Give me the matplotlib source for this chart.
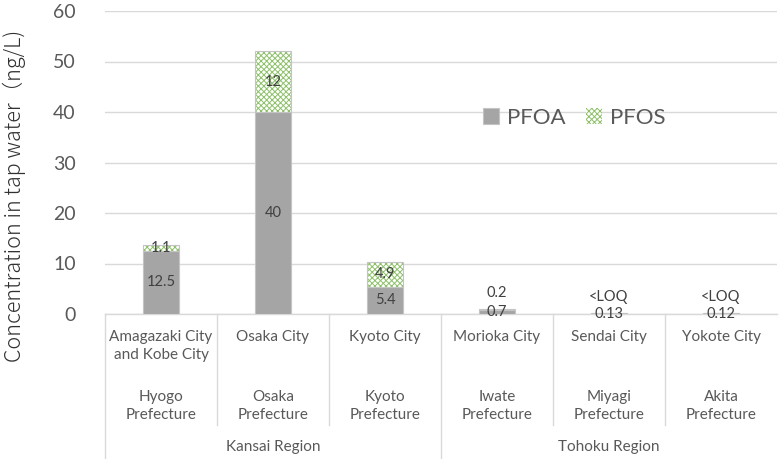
import numpy as np
import matplotlib
matplotlib.use('Agg')
from matplotlib import pyplot as plt

plt.rcParams['font.family'] = ['Lato', 'Noto Sans CJK JP', 'DejaVu Sans']
plt.rcParams['hatch.linewidth'] = 0.7

cities = ['Amagazaki City\nand Kobe City', 'Osaka City', 'Kyoto City',
          'Morioka City', 'Sendai City', 'Yokote City']
prefectures = ['Hyogo\nPrefecture', 'Osaka\nPrefecture', 'Kyoto\nPrefecture',
               'Iwate\nPrefecture', 'Miyagi\nPrefecture', 'Akita\nPrefecture']
regions = ['Kansai Region', 'Tohoku Region']
region_spans = [(0, 2), (3, 5)]

pfoa = [12.5, 40, 5.4, 0.7, 0.13, 0.12]
pfos = [1.1, 12, 4.9, 0.2, 0, 0]
pfoa_labels = ['12.5', '40', '5.4', '0.7', '0.13', '0.12']
pfos_labels = ['1.1', '12', '4.9', '0.2', '<LOQ', '<LOQ']

gray = '#A5A5A5'
green = '#8CC168'
edge = '#C4C4C4'
txt = '#595959'

fig = plt.figure(figsize=(7.79, 4.59), dpi=100)
ax = fig.add_axes([105/779, 1 - 314/459, 672/779, 303/459])

x = np.arange(len(cities))
w = 0.32
ax.bar(x, pfoa, w, color=gray, edgecolor=edge, linewidth=0.8, label='PFOA', zorder=3)
ax.bar(x, pfos, w, bottom=pfoa, color='white', edgecolor=green, hatch='xxxxxx',
       linewidth=0, label='PFOS', zorder=3)
ax.bar(x, pfos, w, bottom=pfoa, fill=False, edgecolor=edge, linewidth=0.8, zorder=4)

# value labels
for i in range(len(x)):
    ax.text(x[i], pfoa[i] / 2, pfoa_labels[i], ha='center', va='center',
            fontsize=10.5, color='#404040', zorder=5)
    if pfos[i] >= 1:
        yl = pfoa[i] + pfos[i] / 2
    elif pfos[i] > 0:
        yl = 4.2
    else:
        yl = 3.4
    ax.text(x[i], yl, pfos_labels[i], ha='center', va='center',
            fontsize=10.5, color='#404040', zorder=5)

ax.set_xlim(-0.5, 5.5)
ax.set_ylim(0, 60)
ax.set_yticks(np.arange(0, 61, 10))
ax.tick_params(axis='y', length=0, labelsize=14, labelcolor=txt, pad=21)
ax.set_xticks([])
ax.yaxis.grid(True, color='#D9D9D9', linewidth=1)
ax.set_axisbelow(True)
for s in ['top', 'right', 'left']:
    ax.spines[s].set_visible(False)
ax.spines['bottom'].set_color('#D9D9D9')
ax.spines['bottom'].set_linewidth(1)

ax.set_ylabel('Concentration in tap water（ng/L)', fontsize=15.5, color='#303030',
              family=['Noto Sans CJK JP', 'DejaVu Sans'], fontweight='light')
ax.yaxis.set_label_coords(-0.118, 0.389)

# multi-level category axis
tr = ax.get_xaxis_transform()
for i in range(len(x)):
    ax.text(x[i], -0.052, cities[i], transform=tr, ha='center', va='top',
            fontsize=11, color=txt, linespacing=1.35)
    ax.text(x[i], -0.25, prefectures[i], transform=tr, ha='center', va='top',
            fontsize=11, color=txt, linespacing=1.35)
for (a, b), name in zip(region_spans, regions):
    ax.text((a + b) / 2, -0.44, name, transform=tr, ha='center', va='center',
            fontsize=11, color=txt)
for b in [0.5, 1.5, 3.5, 4.5]:
    ax.plot([b, b], [0, -0.366], transform=tr, color='#D9D9D9', lw=1, clip_on=False)
for b in [-0.5, 2.5]:
    ax.plot([b, b], [0, -0.48], transform=tr, color='#D9D9D9', lw=1, clip_on=False)

ax.legend(loc='center', bbox_to_anchor=(0.698, 0.647), ncol=2, frameon=False,
          fontsize=16, handlelength=0.75, handleheight=0.75, handletextpad=0.35,
          columnspacing=0.9, labelcolor=txt)

fig.savefig('out.png', dpi=100)
